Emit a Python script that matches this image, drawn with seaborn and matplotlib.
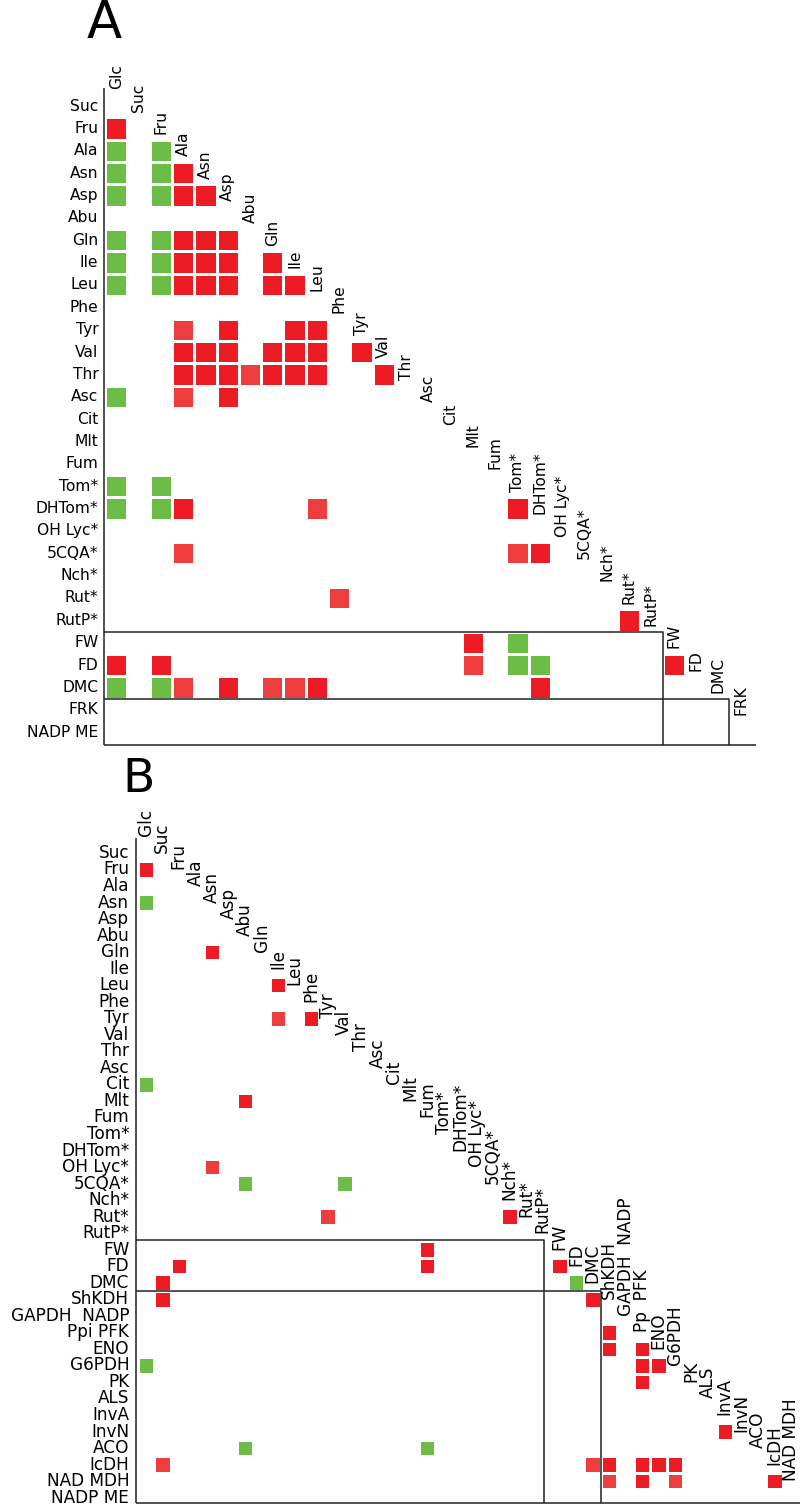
import numpy as np
import pandas as pd
import matplotlib
matplotlib.use('Agg')
import matplotlib.pyplot as plt
import seaborn as sns
from matplotlib.colors import ListedColormap

# variables (row labels are vars[1:], column labels vars[:-1])
vars_a = ['Glc', 'Suc', 'Fru', 'Ala', 'Asn', 'Asp', 'Abu', 'Gln', 'Ile', 'Leu', 'Phe',
          'Tyr', 'Val', 'Thr', 'Asc', 'Cit', 'Mlt', 'Fum', 'Tom*', 'DHTom*', 'OH Lyc*',
          '5CQA*', 'Nch*', 'Rut*', 'RutP*', 'FW', 'FD', 'DMC', 'FRK', 'NADP ME']
vars_b = ['Glc', 'Suc', 'Fru', 'Ala', 'Asn', 'Asp', 'Abu', 'Gln', 'Ile', 'Leu', 'Phe',
          'Tyr', 'Val', 'Thr', 'Asc', 'Cit', 'Mlt', 'Fum', 'Tom*', 'DHTom*', 'OH Lyc*',
          '5CQA*', 'Nch*', 'Rut*', 'RutP*', 'FW', 'FD', 'DMC', 'ShKDH', 'GAPDH  NADP',
          'Ppi PFK', 'ENO', 'G6PDH', 'PK', 'ALS', 'InvA', 'InvN', 'ACO', 'IcDH',
          'NAD MDH', 'NADP ME']
col_labels_b = [v if v != 'Ppi PFK' else 'Pp  PFK' for v in vars_b[:-1]]

# panel A correlations (row, column)
red_a = [('Fru', 'Glc'), ('Asn', 'Ala'), ('Asp', 'Ala'), ('Asp', 'Asn'),
         ('Gln', 'Ala'), ('Gln', 'Asn'), ('Gln', 'Asp'),
         ('Ile', 'Ala'), ('Ile', 'Asn'), ('Ile', 'Asp'), ('Ile', 'Gln'),
         ('Leu', 'Ala'), ('Leu', 'Asn'), ('Leu', 'Asp'), ('Leu', 'Gln'), ('Leu', 'Ile'),
         ('Tyr', 'Asp'), ('Tyr', 'Ile'), ('Tyr', 'Leu'),
         ('Val', 'Ala'), ('Val', 'Asn'), ('Val', 'Asp'), ('Val', 'Gln'), ('Val', 'Ile'),
         ('Val', 'Leu'), ('Val', 'Tyr'),
         ('Thr', 'Ala'), ('Thr', 'Asn'), ('Thr', 'Asp'), ('Thr', 'Gln'), ('Thr', 'Ile'),
         ('Thr', 'Leu'), ('Thr', 'Val'),
         ('Asc', 'Asp'), ('DHTom*', 'Ala'), ('DHTom*', 'Tom*'), ('5CQA*', 'DHTom*'),
         ('RutP*', 'Rut*'), ('FW', 'Mlt'), ('FD', 'Glc'), ('FD', 'Fru'), ('FD', 'FW'),
         ('DMC', 'Asp'), ('DMC', 'Leu'), ('DMC', 'DHTom*')]
weak_a = [('Tyr', 'Ala'), ('Thr', 'Abu'), ('Asc', 'Ala'), ('DHTom*', 'Leu'),
          ('5CQA*', 'Ala'), ('5CQA*', 'Tom*'), ('Rut*', 'Phe'), ('FD', 'Mlt'),
          ('DMC', 'Ala'), ('DMC', 'Gln'), ('DMC', 'Ile')]
green_a = [('Ala', 'Glc'), ('Ala', 'Fru'), ('Asn', 'Glc'), ('Asn', 'Fru'),
           ('Asp', 'Glc'), ('Asp', 'Fru'), ('Gln', 'Glc'), ('Gln', 'Fru'),
           ('Ile', 'Glc'), ('Ile', 'Fru'), ('Leu', 'Glc'), ('Leu', 'Fru'), ('Asc', 'Glc'),
           ('Tom*', 'Glc'), ('Tom*', 'Fru'), ('DHTom*', 'Glc'), ('DHTom*', 'Fru'),
           ('FW', 'Tom*'), ('FD', 'Tom*'), ('FD', 'DHTom*'), ('DMC', 'Glc'), ('DMC', 'Fru')]

# panel B correlations (row, column)
red_b = [('Fru', 'Glc'), ('Gln', 'Asn'), ('Leu', 'Ile'), ('Tyr', 'Phe'), ('Mlt', 'Abu'),
         ('Rut*', 'Nch*'), ('FW', 'Fum'), ('FD', 'Fru'), ('FD', 'Fum'), ('FD', 'FW'),
         ('DMC', 'Suc'), ('ShKDH', 'Suc'), ('ShKDH', 'DMC'), ('Ppi PFK', 'ShKDH'),
         ('ENO', 'ShKDH'), ('ENO', 'Ppi PFK'), ('G6PDH', 'Ppi PFK'), ('G6PDH', 'ENO'),
         ('PK', 'Ppi PFK'), ('InvN', 'InvA'), ('IcDH', 'ShKDH'), ('IcDH', 'Ppi PFK'),
         ('IcDH', 'ENO'), ('IcDH', 'G6PDH'), ('NAD MDH', 'Ppi PFK'), ('NAD MDH', 'IcDH')]
weak_b = [('Tyr', 'Ile'), ('OH Lyc*', 'Asn'), ('Rut*', 'Tyr'), ('IcDH', 'Suc'),
          ('IcDH', 'DMC'), ('NAD MDH', 'ShKDH'), ('NAD MDH', 'G6PDH')]
green_b = [('Asn', 'Glc'), ('Cit', 'Glc'), ('5CQA*', 'Abu'), ('5CQA*', 'Val'),
           ('DMC', 'FD'), ('G6PDH', 'Glc'), ('ACO', 'Abu'), ('ACO', 'Fum')]

colors = ['#6BBD45', '#EE3D3D', '#ED1C24']
cmap = ListedColormap(colors)

W, H = 800, 1507


def build(vars_, red, weak, green):
    df = pd.DataFrame(np.nan, index=vars_[1:], columns=vars_[:-1])
    for r, c in green:
        df.loc[r, c] = 0
    for r, c in weak:
        df.loc[r, c] = 1
    for r, c in red:
        df.loc[r, c] = 2
    return df


def px_axes(fig, left, top, w, h):
    return fig.add_axes([left / W, 1 - (top + h) / H, w / W, h / H])


def draw_panel(ax, df, col_labels, fs, row_x, col_dy, lines):
    sns.heatmap(df, ax=ax, cmap=cmap, vmin=-0.5, vmax=2.5, cbar=False,
                linewidths=1.0, linecolor='white', xticklabels=False, yticklabels=False)
    ax.set_axis_off()
    for i, name in enumerate(df.index):
        ax.text(row_x, i + 0.5, name, ha='right', va='center', fontsize=fs, clip_on=False)
    for j, name in enumerate(col_labels):
        ax.text(j + 0.5, j + col_dy, name, ha='center', va='bottom', rotation=90,
                fontsize=fs, clip_on=False)
    for xs, ys in lines:
        ax.plot(xs, ys, color='#222222', lw=1.1, clip_on=False, solid_capstyle='butt')


fig = plt.figure(figsize=(W / 100, H / 100), dpi=100)

df_a = build(vars_a, red_a, weak_a, green_a)
ax_a = px_axes(fig, 105.05, 94.9, 29 * 22.3, 29 * 22.36)
lines_a = [([-0.05, -0.05], [-0.3, 29.07]),
           ([-0.05, 25, 25], [24, 24, 29.07]),
           ([-0.05, 28, 28], [27, 27, 29.07]),
           ([-0.05, 29.2], [29.07, 29.07])]
draw_panel(ax_a, df_a, vars_a[:-1], 11.2, -0.3, -0.25, lines_a)

df_b = build(vars_b, red_b, weak_b, green_b)
ax_b = px_axes(fig, 137.5, 844.7, 40 * 16.545, 40 * 16.53)
lines_b = [([-0.11, -0.11], [-0.4, 39.85]),
           ([-0.11, 24.57, 24.57], [23.9, 23.9, 39.85]),
           ([-0.11, 28, 28], [27, 27, 39.85]),
           ([-0.11, 40.2], [39.85, 39.85])]
draw_panel(ax_b, df_b, col_labels_b, 12.2, -0.5, -0.5, lines_b)

fig.text(104.5 / W, 1 - 38 / H, 'A', ha='center', va='baseline', fontsize=37)
fig.text(139 / W, 1 - 792 / H, 'B', ha='center', va='baseline', fontsize=34)

fig.savefig('out.png', dpi=100)
